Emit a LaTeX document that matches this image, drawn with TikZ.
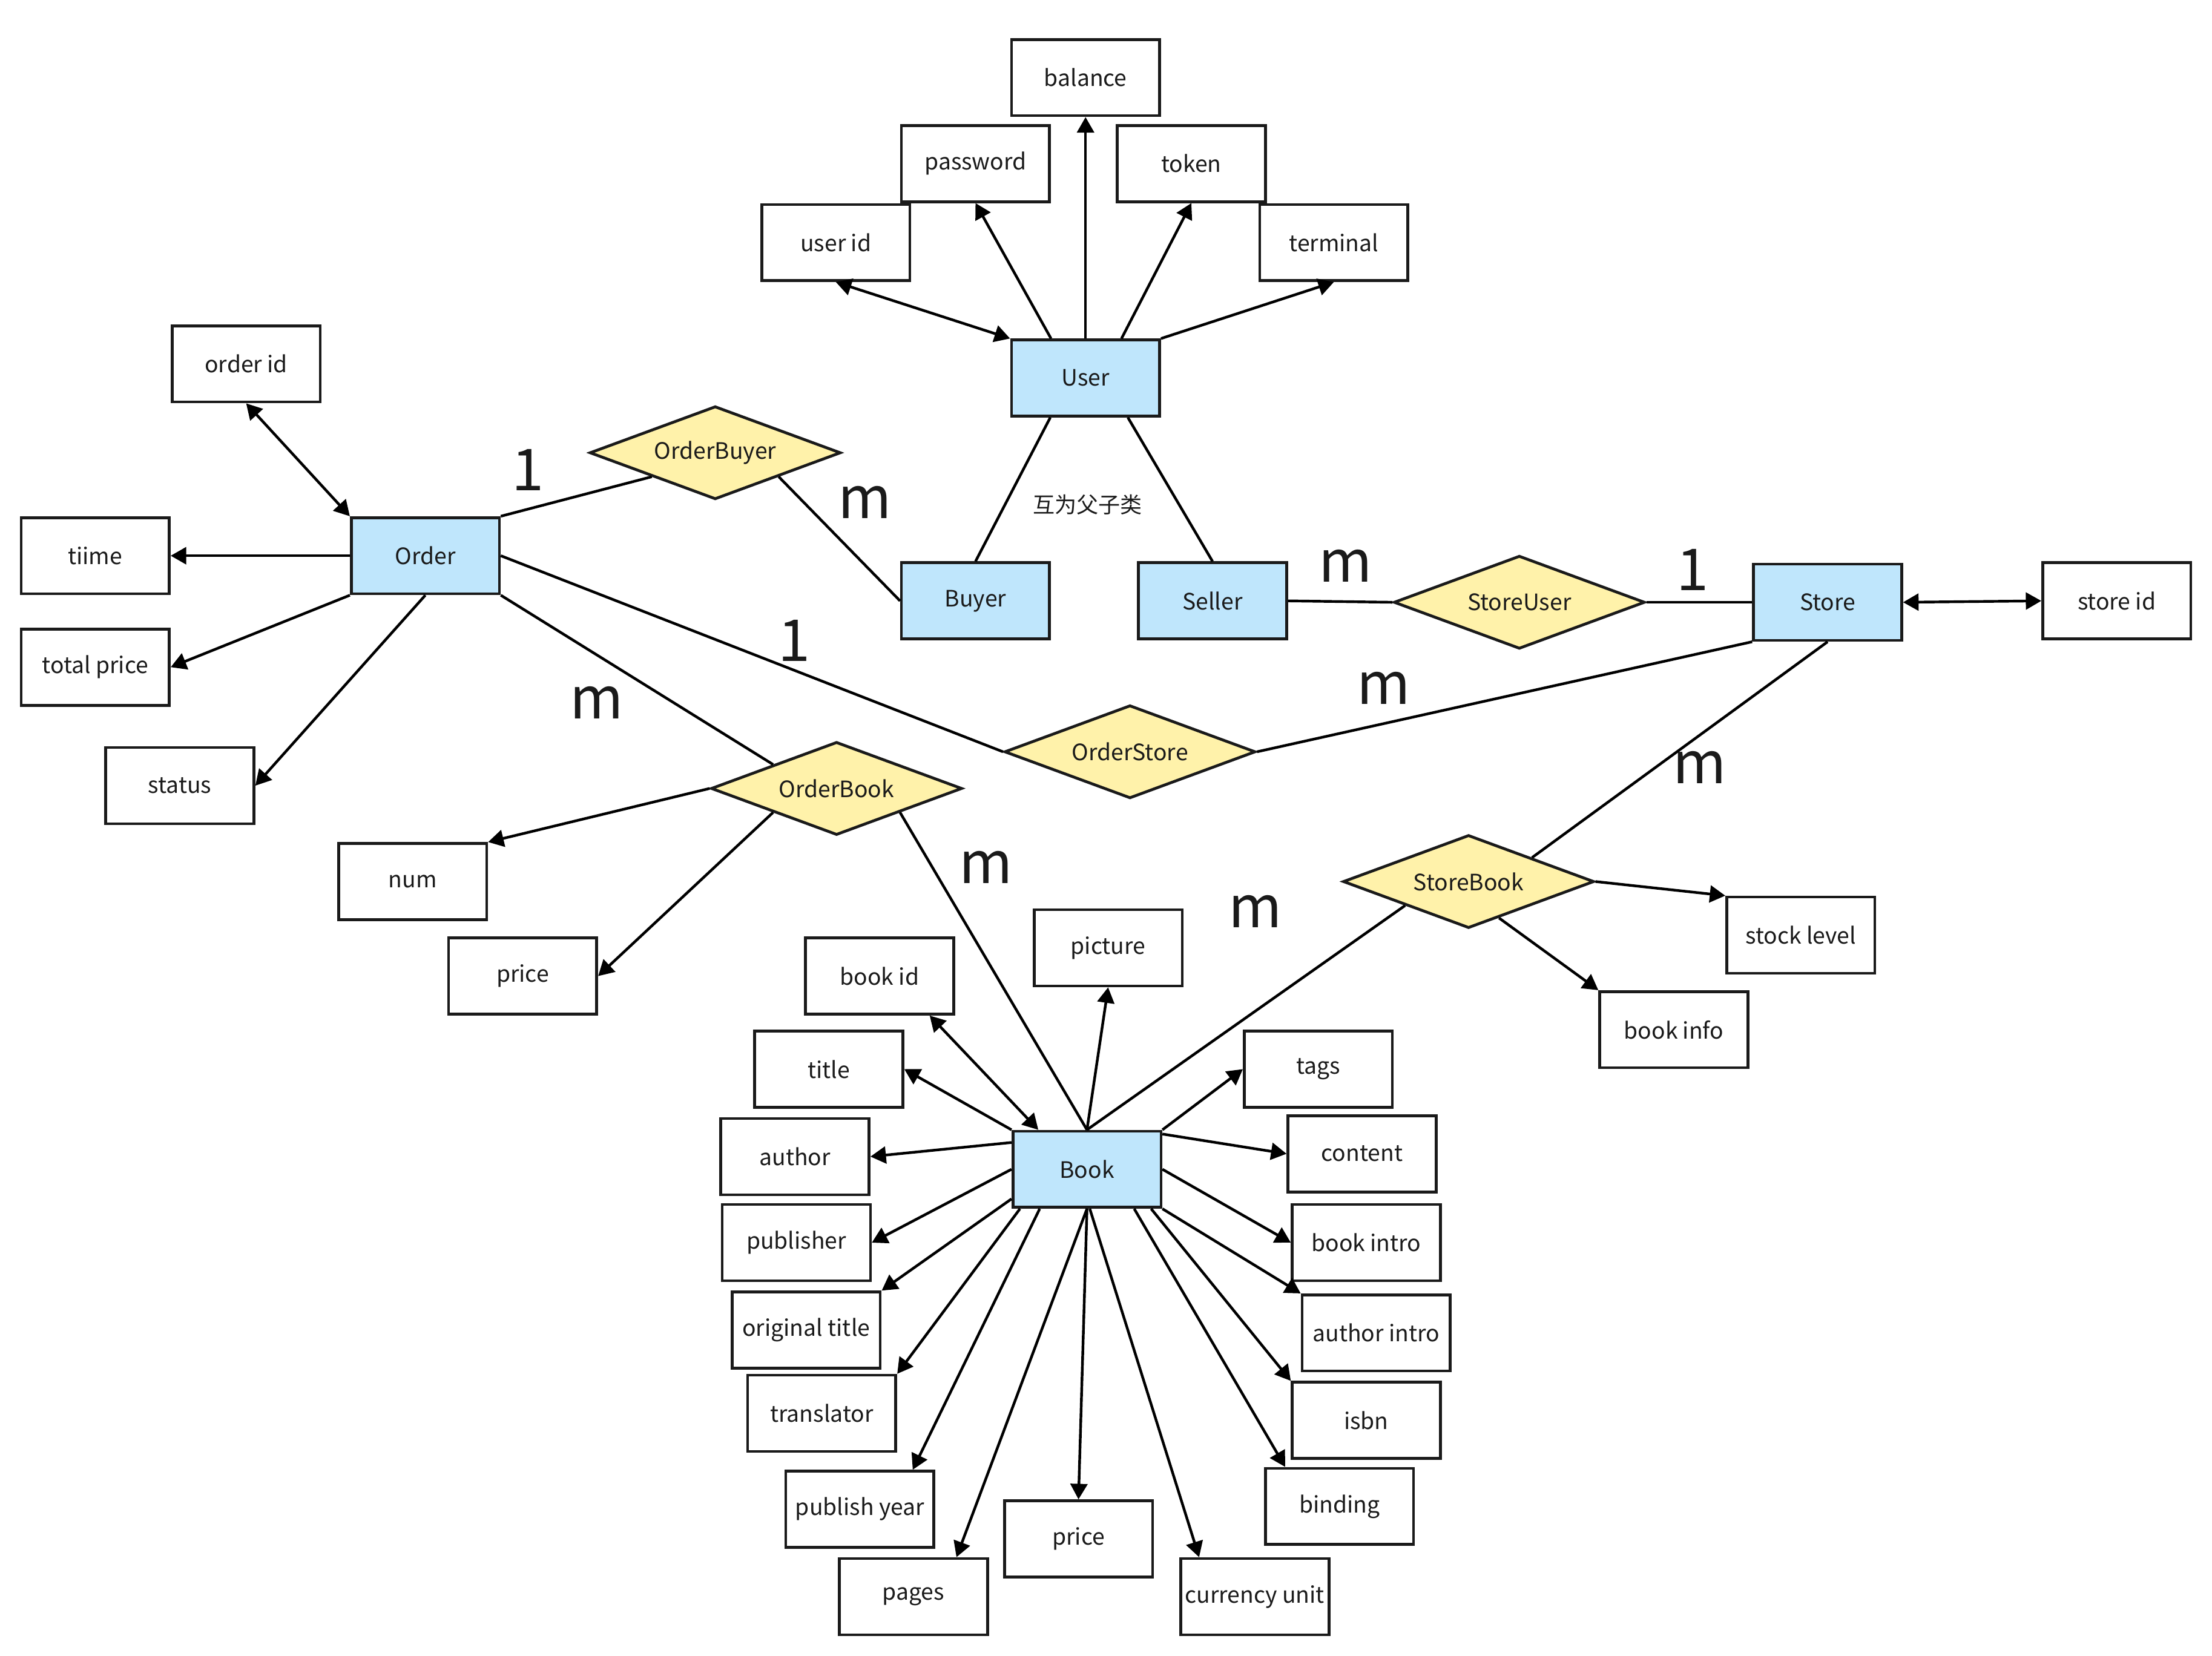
\documentclass[tikz,border=0pt]{standalone}
\usepackage{fontspec}
\setmainfont{Noto Sans CJK SC}
\usetikzlibrary{shapes.geometric,arrows.meta,calc}
\definecolor{entblue}{RGB}{191,230,252}
\definecolor{relyellow}{RGB}{255,242,170}
\definecolor{ink}{RGB}{26,26,26}
\begin{document}
\begin{tikzpicture}[x=1pt,y=-1pt,
 box/.style={draw=ink,line width=2pt,minimum width=105pt,minimum height=54pt,inner sep=0pt,font=\fontsize{16}{19}\selectfont,text=ink},
 attr/.style={box,fill=white},
 ent/.style={box,fill=entblue},
 rel/.style={diamond,draw=ink,line width=2pt,fill=relyellow,minimum width=178pt,minimum height=66pt,aspect=2.7,inner sep=0pt,font=\fontsize{16}{19}\selectfont,text=ink},
 card/.style={font=\fontsize{41}{48}\selectfont,text=ink,inner sep=0pt},
 conn/.style={draw=black,line width=1.9pt},
 arr/.style={conn,-{Triangle[length=11pt,width=12pt]}},
 darr/.style={conn,{Triangle[length=11pt,width=12pt]}-{Triangle[length=11pt,width=12pt]}},
]
\useasboundingbox (0,0) rectangle (1568,1174);
\fill[white] (0,0) rectangle (1568,1174);

% User part
\node[attr] (balance) at (769.5,55) {balance};
\node[attr] (password) at (691.5,116) {password};
\node[attr] (token) at (844.5,116) {token};
\node[attr] (userid) at (592.5,172) {user id};
\node[attr] (terminal) at (945.5,172) {terminal};
\node[ent] (user) at (769.5,268) {User};
\node[ent] (buyer) at (691.5,426) {Buyer};
\node[ent] (seller) at (859.5,426) {Seller};
\node[font=\fontsize{15.5}{18}\selectfont,text=ink] (note) at (771,358) {互为父子类};

% Order part
\node[attr] (orderid) at (174.5,258) {order id};
\node[ent] (order) at (301.5,394) {Order};
\node[attr] (tiime) at (67.5,394) {tiime};
\node[attr] (totalprice) at (67.5,473) {total price};
\node[attr] (status) at (127.5,557) {status};
\node[rel] (ob) at (507,321) {OrderBuyer};
\node[rel] (os) at (801,533) {OrderStore};
\node[rel] (obk) at (593,559) {OrderBook};
\node[attr] (num) at (292.5,625) {num};
\node[attr] (oprice) at (370.5,692) {price};

% Store part
\node[rel] (su) at (1077,427) {StoreUser};
\node[ent] (store) at (1295.5,427) {Store};
\node[attr] (storeid) at (1500.5,426) {store id};
\node[rel] (sb) at (1041,625) {StoreBook};
\node[attr] (stock) at (1276.5,663) {stock level};
\node[attr] (bookinfo) at (1186.5,730) {book info};

% Book part
\node[ent] (book) at (770.5,829) {Book};
\node[attr] (picture) at (785.5,672) {picture};
\node[attr] (bookid) at (623.5,692) {book id};
\node[attr] (title) at (587.5,758) {title};
\node[attr] (tags) at (934.5,758) {tags};
\node[attr] (author) at (563.5,820) {author};
\node[attr] (content) at (965.5,818) {content};
\node[attr] (publisher) at (564.5,881) {publisher};
\node[attr] (bookintro) at (968.5,881) {book intro};
\node[attr] (origtitle) at (571.5,943) {original title};
\node[attr] (authorintro) at (975.5,945) {author intro};
\node[attr] (translator) at (582.5,1002) {translator};
\node[attr] (isbn) at (968.5,1007) {isbn};
\node[attr] (pubyear) at (609.5,1070) {publish year};
\node[attr] (binding) at (949.5,1068) {binding};
\node[attr] (bprice) at (764.5,1091) {price};
\node[attr] (pages) at (647.5,1132) {pages};
\node[attr] (currency) at (889.5,1132) {currency unit};

% cardinality labels
\node[card] (c1) at (374,333) {1};
\node[card] (c2) at (613,356) {m};
\node[card] (c3) at (563,454) {1};
\node[card] (c4) at (423,498) {m};
\node[card] (c5) at (954,401) {m};
\node[card] (c6) at (1200,404) {1};
\node[card] (c7) at (981,488) {m};
\node[card] (c8) at (1205,544) {m};
\node[card] (c9) at (699,615) {m};
\node[card] (c10) at (890,646) {m};

% User connectors
\draw[darr] (userid.south) -- (user.north west);
\draw[arr] ([xshift=-24.5pt]user.north) -- (password.south);
\draw[arr] (user.north) -- (balance.south);
\draw[arr] ([xshift=25.5pt]user.north) -- (token.south);
\draw[arr] (user.north east) -- (terminal.south);
\draw[conn] ([xshift=-25pt]user.south) -- (buyer.north);
\draw[conn] ([xshift=30pt]user.south) -- (seller.north);

% Order connectors
\draw[darr] (orderid.south) -- (order.north west);
\draw[arr] (order.west) -- (tiime.east);
\draw[arr] (order.south west) -- (totalprice.east);
\draw[arr] (order.south) -- (status.east);
\draw[conn] (order.north east) -- ($(ob.west)!0.5!(ob.south)$);
\draw[conn] ($(ob.east)!0.5!(ob.south)$) -- (buyer.west);
\draw[conn] (order.east) -- (os.west);
\draw[conn] (order.south east) -- ($(obk.west)!0.5!(obk.north)$);
\draw[arr] (obk.west) -- (num.north east);
\draw[arr] ($(obk.west)!0.5!(obk.south)$) -- (oprice.east);
\draw[conn] ($(obk.east)!0.5!(obk.south)$) -- (book.north);

% Store connectors
\draw[conn] (os.east) -- (store.south west);
\draw[conn] (seller.east) -- (su.west);
\draw[conn] (su.east) -- (store.west);
\draw[darr] (store.east) -- (storeid.west);
\draw[conn] (store.south) -- ($(sb.east)!0.5!(sb.north)$);
\draw[arr] (sb.east) -- (stock.north west);
\draw[arr] ($(sb.south)!0.24!(sb.east)$) -- (bookinfo.north west);
\draw[conn] ($(sb.west)!0.5!(sb.south)$) -- (book.north);

% Book connectors
\draw[darr] ([xshift=-18pt]bookid.south east) -- ([xshift=19pt]book.north west);
\draw[arr] (book.north west) -- (title.east);
\draw[arr] ([yshift=-9pt]book.north west) -- (author.east);
\draw[arr] (book.north) -- (picture.south);
\draw[arr] (book.north east) -- (tags.west);
\draw[arr] ([yshift=-3pt]book.north east) -- (content.west);
\draw[arr] (book.west) -- (publisher.east);
\draw[arr] (book.east) -- (bookintro.west);
\draw[arr] ([yshift=7pt]book.south west) -- (origtitle.north east);
\draw[arr] (book.south east) -- (authorintro.north west);
\draw[arr] ([xshift=6pt]book.south west) -- (translator.north east);
\draw[arr] ([xshift=-8pt]book.south east) -- (isbn.north west);
\draw[arr] ([xshift=20pt]book.south west) -- ([xshift=-16pt]pubyear.north east);
\draw[arr] ([xshift=-20pt]book.south east) -- ([xshift=15pt]binding.north west);
\draw[arr] (book.south) -- ([xshift=-23pt]pages.north east);
\draw[arr] (book.south) -- (bprice.north);
\draw[arr] ([xshift=2pt]book.south) -- ([xshift=14pt]currency.north west);
\end{tikzpicture}
\end{document}
